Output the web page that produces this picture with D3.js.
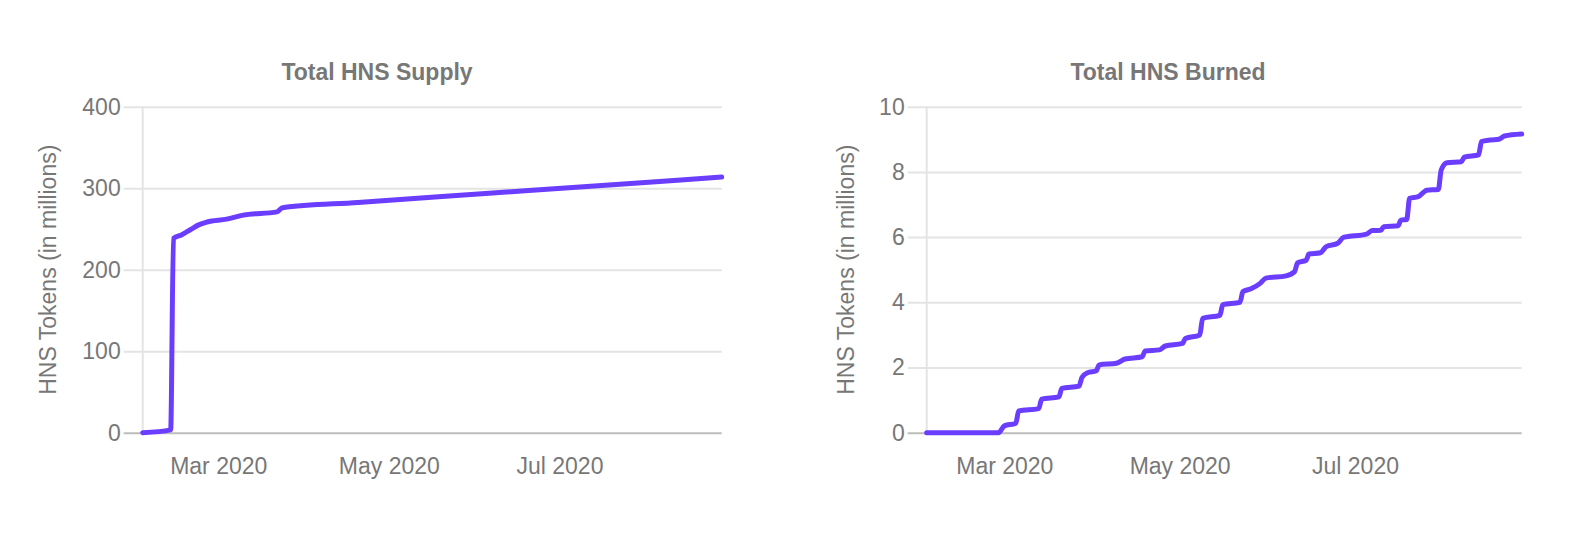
<!DOCTYPE html>
<html>
<head>
<meta charset="utf-8">
<script src="https://cdn.jsdelivr.net/npm/d3@7"></script>
<style>
  html, body { margin: 0; padding: 0; background: #fff; }
  svg { display: block; }
  text { font-family: "Helvetica Neue", Helvetica, Arial, "Liberation Sans", sans-serif; fill: #777; }
</style>
</head>
<body>
<svg id="chart" width="1592" height="550"></svg>
<script>
// ---------- Data ----------
const chartTitles = ["Total HNS Supply", "Total HNS Burned"];
const yAxisTitle = "HNS Tokens (in millions)";
const xTickFormat = "%b %Y";

const supplyDates = ["2020-02-03","2020-02-13","2020-02-14","2020-02-17","2020-02-20","2020-02-23","2020-02-26",
  "2020-03-04","2020-03-10","2020-03-22","2020-03-24","2020-04-20","2020-05-20","2020-06-20","2020-07-20","2020-08-28"];
const supplyValues = [0, 3.5, 238.5, 243, 249, 255, 258.5,
  262, 267, 271, 276, 282.5, 289.7, 297.1, 304.3, 313.7];
const supplyTicks = [0, 100, 200, 300, 400];

const burnedDates = ["2020-02-03","2020-02-28","2020-03-01","2020-03-05","2020-03-06","2020-03-13","2020-03-14",
  "2020-03-20","2020-03-21","2020-03-27","2020-03-28","2020-03-30","2020-04-02","2020-04-03","2020-04-09",
  "2020-04-12","2020-04-18","2020-04-19","2020-04-24","2020-04-26","2020-05-02","2020-05-03","2020-05-08",
  "2020-05-09","2020-05-15","2020-05-16","2020-05-22","2020-05-23","2020-05-26","2020-05-29","2020-05-31",
  "2020-06-07","2020-06-10","2020-06-11","2020-06-14","2020-06-15","2020-06-19","2020-06-21","2020-06-25",
  "2020-06-27","2020-07-05","2020-07-07","2020-07-10","2020-07-11","2020-07-16","2020-07-17","2020-07-19",
  "2020-07-20","2020-07-23","2020-07-26","2020-07-30","2020-07-31","2020-08-02","2020-08-07","2020-08-08",
  "2020-08-13","2020-08-14","2020-08-17","2020-08-20","2020-08-22","2020-08-28"];
const burnedValues = [0, 0, 0.21, 0.29, 0.67, 0.74, 1.03,
  1.10, 1.36, 1.43, 1.69, 1.84, 1.90, 2.08, 2.13,
  2.26, 2.33, 2.51, 2.54, 2.66, 2.74, 2.89, 3.00,
  3.51, 3.60, 3.93, 4.00, 4.33, 4.42, 4.58, 4.74,
  4.81, 4.94, 5.21, 5.29, 5.48, 5.52, 5.71, 5.81,
  5.99, 6.09, 6.20, 6.21, 6.32, 6.35, 6.52, 6.54,
  7.19, 7.24, 7.44, 7.46, 8.06, 8.28, 8.31, 8.45,
  8.52, 8.93, 8.98, 9.00, 9.10, 9.16];
const burnedTicks = [0, 2, 4, 6, 8, 10];

// ---------- Layout / style ----------
const FONT = 23;
const TEXT_COLOR = "#777";
const LINE_COLOR = "#6a3dff";
const GRID_COLOR = "#e4e4e4";
const ZERO_COLOR = "#bdbdbd";
const parse = d3.timeParse("%Y-%m-%d");

const panels = [
  { title: chartTitles[0], dates: supplyDates, values: supplyValues, ticks: supplyTicks,
    x0: 142.7, x1: 721.7, titleX: 377, yTitleX: 56 },
  { title: chartTitles[1], dates: burnedDates, values: burnedValues, ticks: burnedTicks,
    x0: 926.7, x1: 1521.7, titleX: 1168, yTitleX: 853.5 }
];
const yTop = 106.7, yBottom = 432.7;
const svg = d3.select("#chart");

panels.forEach(p => {
  const data = p.dates.map((d, i) => ({ date: parse(d), value: p.values[i] }));
  const x = d3.scaleTime().domain(d3.extent(data, d => d.date)).range([p.x0, p.x1]);
  const y = d3.scaleLinear().domain([p.ticks[0], p.ticks[p.ticks.length - 1]]).range([yBottom, yTop]);
  const W = p.x1 - p.x0;
  const g = svg.append("g");

  // horizontal gridlines + y tick labels
  const yAxis = d3.axisLeft(y).tickValues(p.ticks).tickSize(W + 19).tickPadding(3);
  const ya = g.append("g").attr("transform", `translate(${p.x1},0)`).call(yAxis);
  ya.select(".domain").remove();
  ya.selectAll(".tick line").attr("stroke", d => d === 0 ? ZERO_COLOR : GRID_COLOR).attr("stroke-width", 2);
  ya.selectAll(".tick text").style("font-size", FONT + "px").attr("fill", TEXT_COLOR);

  // vertical y-axis line
  g.append("line").attr("x1", p.x0).attr("x2", p.x0).attr("y1", yTop).attr("y2", yBottom - 1)
    .attr("stroke", GRID_COLOR).attr("stroke-width", 2);

  // x axis ticks
  const xAxis = d3.axisBottom(x).ticks(d3.timeMonth.every(2)).tickFormat(d3.timeFormat(xTickFormat))
    .tickSize(0).tickPadding(25);
  const xa = g.append("g").attr("transform", `translate(0,${yBottom})`).call(xAxis);
  xa.select(".domain").remove();
  xa.selectAll(".tick text").style("font-size", FONT + "px").attr("fill", TEXT_COLOR);

  // line
  const line = d3.line().x(d => x(d.date)).y(d => y(d.value)).curve(d3.curveMonotoneX);
  g.append("path").datum(data).attr("d", line).attr("fill", "none")
    .attr("stroke", LINE_COLOR).attr("stroke-width", 5)
    .attr("stroke-linejoin", "round").attr("stroke-linecap", "round");

  // title
  g.append("text").attr("x", p.titleX).attr("y", 80).attr("text-anchor", "middle")
    .style("font-size", FONT + "px").style("font-weight", "bold").text(p.title);

  // y axis title
  g.append("text").attr("transform", `translate(${p.yTitleX},${(yTop + yBottom) / 2}) rotate(-90)`)
    .attr("text-anchor", "middle").style("font-size", FONT + "px").text(yAxisTitle);
});
</script>
</body>
</html>
